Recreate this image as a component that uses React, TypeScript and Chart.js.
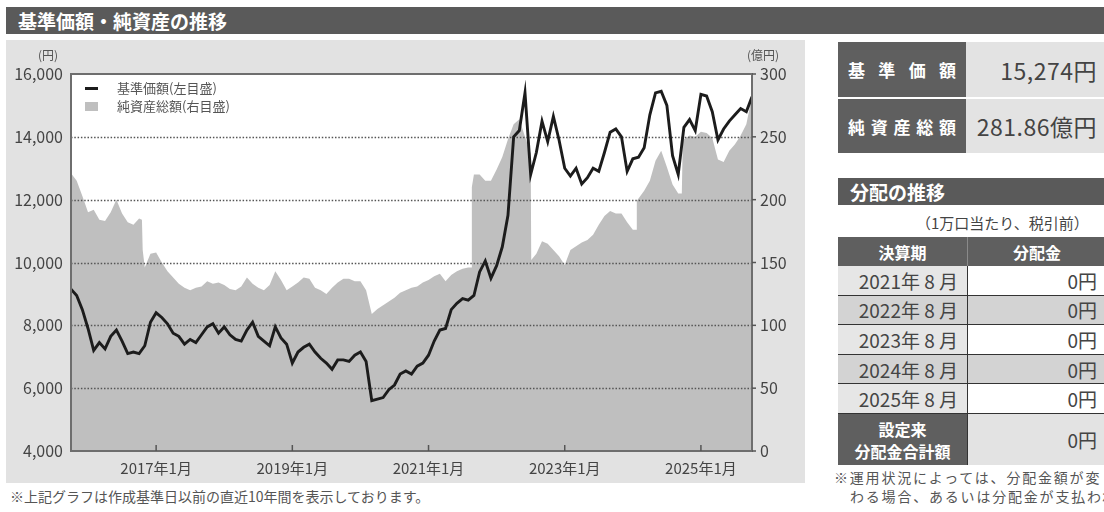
import React, { useEffect, useRef } from "react";
import { Chart, registerables } from "chart.js";

Chart.register(...registerables);

const FONT = "'Noto Sans CJK JP', 'Noto Sans', sans-serif";

// ---- data ----
const navMonths = [
  "2015-10", "2015-11", "2015-12",
  "2016-01", "2016-02", "2016-03", "2016-04", "2016-05", "2016-06", "2016-07", "2016-08", "2016-09", "2016-10", "2016-11", "2016-12",
  "2017-01", "2017-02", "2017-03", "2017-04", "2017-05", "2017-06", "2017-07", "2017-08", "2017-09", "2017-10", "2017-11", "2017-12",
  "2018-01", "2018-02", "2018-03", "2018-04", "2018-05", "2018-06", "2018-07", "2018-08", "2018-09", "2018-10", "2018-11", "2018-12",
  "2019-01", "2019-02", "2019-03", "2019-04", "2019-05", "2019-06", "2019-07", "2019-08", "2019-09", "2019-10", "2019-11", "2019-12",
  "2020-01", "2020-02", "2020-03", "2020-04", "2020-05", "2020-06", "2020-07", "2020-08", "2020-09", "2020-10", "2020-11", "2020-12",
  "2021-01", "2021-02", "2021-03", "2021-04", "2021-05", "2021-06", "2021-07", "2021-08", "2021-09", "2021-10", "2021-11", "2021-12",
  "2022-01", "2022-02", "2022-03", "2022-04", "2022-05", "2022-06", "2022-07", "2022-08", "2022-09", "2022-10", "2022-11", "2022-12",
  "2023-01", "2023-02", "2023-03", "2023-04", "2023-05", "2023-06", "2023-07", "2023-08", "2023-09", "2023-10", "2023-11", "2023-12",
  "2024-01", "2024-02", "2024-03", "2024-04", "2024-05", "2024-06", "2024-07", "2024-08", "2024-09", "2024-10", "2024-11", "2024-12",
  "2025-01", "2025-02", "2025-03", "2025-04", "2025-05", "2025-06", "2025-07", "2025-08", "2025-09", "2025-10",
];

const navValues = [
  9150, 8950, 8500,
  7900, 7200, 7450, 7250, 7650, 7850, 7500, 7100, 7150, 7100, 7350, 8100,
  8400, 8250, 8050, 7750, 7650, 7400, 7550, 7450, 7700, 7950, 8050, 7750,
  7950, 7700, 7550, 7500, 7850, 8100, 7650, 7500, 7350, 7950, 7600, 7400,
  6800, 7150, 7300, 7400, 7150, 6950, 6800, 6600, 6900, 6900, 6850, 7050,
  7150, 6850, 5600, 5650, 5700, 5950, 6100, 6450, 6550, 6450, 6700, 6800,
  7050, 7500, 7850, 7900, 8500, 8700, 8850, 8800, 8950, 9700, 10050, 9500,
  9900, 10500, 11500, 14000, 14200, 15400, 12800, 13500, 14500, 13850, 14650, 13900,
  13000, 12750, 13000, 12500, 12700, 13000, 12900, 13500, 14150, 14250, 14000, 12900,
  13300, 13350, 13650, 14700, 15400, 15450, 15000, 13400, 12800, 14300, 14550, 14200,
  15350, 15300, 14800, 13900, 14250, 14500, 14700, 14900, 14800, 15274,
];

const aumDates = [
  "2015-10", "2015-11", "2015-12",
  "2016-01", "2016-02", "2016-03", "2016-04", "2016-05", "2016-06", "2016-07", "2016-08", "2016-09",
  "2016-10", "2016-10-16", "2016-10-20", "2016-11", "2016-12",
  "2017-01", "2017-02", "2017-03", "2017-04", "2017-05", "2017-06", "2017-07", "2017-08", "2017-09", "2017-10", "2017-11", "2017-12",
  "2018-01", "2018-02", "2018-03", "2018-04", "2018-05", "2018-06", "2018-07", "2018-08", "2018-09", "2018-10", "2018-11", "2018-12",
  "2019-01", "2019-02", "2019-03", "2019-04", "2019-05", "2019-06", "2019-07", "2019-08", "2019-09", "2019-10", "2019-11", "2019-12",
  "2020-01", "2020-02", "2020-03", "2020-04", "2020-05", "2020-06", "2020-07", "2020-08", "2020-09", "2020-10", "2020-11", "2020-12",
  "2021-01", "2021-02", "2021-03", "2021-04", "2021-05", "2021-06", "2021-07", "2021-08", "2021-08-17", "2021-08-20",
  "2021-09", "2021-10", "2021-11", "2021-12",
  "2022-01", "2022-02", "2022-03", "2022-04", "2022-05", "2022-06", "2022-07", "2022-07-04",
  "2022-08", "2022-09", "2022-10", "2022-11", "2022-12",
  "2023-01", "2023-02", "2023-03", "2023-04", "2023-05", "2023-06", "2023-07", "2023-08", "2023-09", "2023-10", "2023-11", "2023-12",
  "2024-01", "2024-01-18", "2024-01-22", "2024-02", "2024-03", "2024-04", "2024-05", "2024-06", "2024-07", "2024-08",
  "2024-09", "2024-09-20", "2024-09-25", "2024-10", "2024-11", "2024-12",
  "2025-01", "2025-02", "2025-03", "2025-04", "2025-05", "2025-06", "2025-07", "2025-08", "2025-09", "2025-10",
];

const aumValues = [
  221, 215, 203,
  190, 192, 184, 183, 190, 200, 189, 182, 180,
  185, 184, 160, 146, 157,
  158, 150, 143, 138, 133, 130, 128, 130, 131, 135, 133, 134,
  132, 129, 128, 131, 138, 133, 130, 128, 132, 143, 136, 128,
  131, 134, 138, 137, 130, 128, 125, 130, 134, 137, 137, 135,
  135, 128, 109, 113, 116, 119, 122, 126, 128, 130, 131, 134,
  136, 139, 141, 135, 140, 143, 145, 146, 146, 210,
  220, 220, 215, 215,
  224, 234, 248, 260, 264, 250, 237, 152,
  157, 167, 165, 160, 155,
  148, 160, 163, 166, 168, 172, 180, 187, 191, 189, 189, 182,
  176, 176, 199, 201, 207, 215, 231, 239, 226, 212,
  205, 205, 246, 248, 251, 250,
  254, 253, 249, 232, 230, 239, 244, 251, 260, 281.86,
];

const xTickMonths = ["2017-01", "2019-01", "2021-01", "2023-01", "2025-01"];
const xTickLabels = ["2017年1月", "2019年1月", "2021年1月", "2023年1月", "2025年1月"];
const xRange = ["2015-10", "2025-10"];
const leftAxis = { min: 4000, max: 16000, step: 2000 };
const rightAxis = { min: 0, max: 300, step: 50 };

const latestNav = "15,274円";
const latestAum = "281.86億円";
const distPeriods = ["2021年 8 月", "2022年 8 月", "2023年 8 月", "2024年 8 月", "2025年 8 月"];
const distAmounts = ["0円", "0円", "0円", "0円", "0円"];
const distTotal = "0円";

function monthIndex(s: string): number {
  const [y, m, d] = s.split("-").map(Number);
  return (y - 2015) * 12 + (m - 10) + (d ? (d - 1) / 30 : 0);
}

const framePlugin = {
  id: "frame",
  beforeDraw(chart: any) {
    const { ctx, chartArea: a } = chart;
    ctx.save();
    ctx.fillStyle = "#ffffff";
    ctx.fillRect(a.left, a.top, a.right - a.left, a.bottom - a.top);
    ctx.restore();
  },
  beforeDatasetDraw(chart: any, args: any) {
    if (args.index !== 0) return;
    const { ctx, chartArea: a } = chart;
    const ys = chart.scales.y;
    ctx.save();
    ctx.strokeStyle = "#555";
    ctx.lineWidth = 1.3;
    ctx.setLineDash([1.5, 1.8]);
    ys.ticks.forEach((t: any) => {
      if (t.value <= ys.min || t.value >= ys.max) return;
      const py = Math.round(ys.getPixelForValue(t.value)) + 0.5;
      ctx.beginPath();
      ctx.moveTo(a.left, py);
      ctx.lineTo(a.right, py);
      ctx.stroke();
    });
    ctx.restore();
  },
  afterDatasetsDraw(chart: any) {
    const { ctx, chartArea: a } = chart;
    ctx.save();
    ctx.strokeStyle = "#6e6e6e";
    ctx.lineWidth = 2;
    ctx.strokeRect(a.left, a.top, a.right - a.left, a.bottom - a.top);
    ctx.strokeStyle = "#555";
    ctx.lineWidth = 1.5;
    chart.scales.x.ticks.forEach((t: any) => {
      const px = chart.scales.x.getPixelForValue(t.value);
      ctx.beginPath();
      ctx.moveTo(px, a.bottom);
      ctx.lineTo(px, a.bottom - 6);
      ctx.stroke();
    });
    const y2 = chart.scales.y2;
    y2.ticks.forEach((t: any) => {
      const py = y2.getPixelForValue(t.value);
      ctx.beginPath();
      ctx.moveTo(a.right, py);
      ctx.lineTo(a.right + 4, py);
      ctx.stroke();
    });
    ctx.restore();
  },
};

function PriceChart() {
  const ref = useRef<HTMLCanvasElement | null>(null);
  useEffect(() => {
    if (!ref.current) return;
    const tickFont = { family: FONT, size: 16 };
    const chart = new Chart(ref.current, {
      type: "line",
      data: {
        datasets: [
          {
            label: "基準価額(左目盛)",
            data: navMonths.map((m, i) => ({ x: monthIndex(m), y: navValues[i] })),
            yAxisID: "y",
            borderColor: "#1c1c1c",
            borderWidth: 2.9,
            pointRadius: 0,
            fill: false,
            tension: 0,
          },
          {
            label: "純資産総額(右目盛)",
            data: aumDates.map((d, i) => ({ x: monthIndex(d), y: aumValues[i] })),
            yAxisID: "y2",
            borderColor: "rgba(0,0,0,0)",
            borderWidth: 0,
            backgroundColor: "#bfbfbf",
            pointRadius: 0,
            fill: "origin",
            tension: 0,
          },
        ],
      },
      options: {
        animation: false,
        responsive: true,
        maintainAspectRatio: false,
        layout: { padding: { top: 34, left: 0, right: 0, bottom: 0 } },
        plugins: { legend: { display: false }, tooltip: { enabled: false } },
        scales: {
          x: {
            type: "linear",
            min: monthIndex(xRange[0]),
            max: monthIndex(xRange[1]),
            grid: { display: false, drawTicks: false },
            border: { display: false },
            afterBuildTicks: (s: any) => {
              s.ticks = xTickMonths.map((m) => ({ value: monthIndex(m) }));
            },
            afterFit: (s: any) => {
              s.height = 32;
            },
            ticks: {
              autoSkip: false,
              maxRotation: 0,
              padding: 8,
              color: "#444",
              font: { family: FONT, size: 15 },
              callback: (v: any) => {
                const i = xTickMonths.findIndex((m) => Math.abs(monthIndex(m) - Number(v)) < 1e-6);
                return i >= 0 ? xTickLabels[i] : "";
              },
            },
          },
          y: {
            position: "left",
            min: leftAxis.min,
            max: leftAxis.max,
            grid: { display: false, drawTicks: false },
            border: { display: false },
            afterFit: (s: any) => {
              s.width = 65;
            },
            ticks: {
              stepSize: leftAxis.step,
              padding: 8,
              color: "#444",
              font: tickFont,
              callback: (v: any) => Number(v).toLocaleString("en-US"),
            },
          },
          y2: {
            position: "right",
            min: rightAxis.min,
            max: rightAxis.max,
            grid: { display: false, drawTicks: false },
            border: { display: false },
            afterFit: (s: any) => {
              s.width = 53;
            },
            ticks: {
              stepSize: rightAxis.step,
              padding: 8,
              color: "#444",
              font: tickFont,
            },
          },
        },
      } as any,
      plugins: [framePlugin],
    });
    return () => chart.destroy();
  }, []);
  return (
    <div style={{ position: "absolute", left: 0, top: 0, width: 799, height: 443 }}>
      <canvas ref={ref} />
    </div>
  );
}

const abs = (o: React.CSSProperties): React.CSSProperties => ({ position: "absolute", boxSizing: "border-box", ...o });

function Justified({ text }: { text: string }) {
  return (
    <div style={{ display: "flex", justifyContent: "space-between", width: "100%", padding: "0 10px", boxSizing: "border-box" }}>
      {text.split("").map((c, i) => (
        <span key={i}>{c}</span>
      ))}
    </div>
  );
}

export default function App() {
  const rowTop = 266;
  const rowH = 29.6;
  return (
    <div
      style={{
        position: "absolute",
        left: 0,
        top: 0,
        width: 1104,
        height: 512,
        overflow: "hidden",
        background: "#fff",
        fontFamily: FONT,
      }}
    >
      {/* title bar */}
      <div
        style={abs({
          left: 6,
          top: 7,
          width: 1098,
          height: 27,
          background: "#5a5a5a",
          color: "#fff",
          fontWeight: 700,
          fontSize: 19,
          lineHeight: "27px",
          paddingLeft: 12,
        })}
      >
        基準価額・純資産の推移
      </div>

      {/* chart panel */}
      <div style={abs({ left: 6, top: 40, width: 799, height: 443, background: "#e2e2e2" })}>
        <PriceChart />
        <div style={abs({ left: 32, top: 8, fontSize: 12, color: "#555", lineHeight: "14px" })}>(円)</div>
        <div style={abs({ left: 741, top: 8, fontSize: 12, color: "#555", lineHeight: "14px" })}>(億円)</div>
        {/* legend */}
        <div style={abs({ left: 79, top: 47, width: 13, height: 2.6, background: "#1c1c1c" })} />
        <div style={abs({ left: 111, top: 39, fontSize: 13, color: "#555", lineHeight: "18px", whiteSpace: "nowrap" })}>
          基準価額(左目盛)
        </div>
        <div style={abs({ left: 79, top: 62, width: 13, height: 9, background: "#bfbfbf" })} />
        <div style={abs({ left: 111, top: 57, fontSize: 13, color: "#555", lineHeight: "18px", whiteSpace: "nowrap" })}>
          純資産総額(右目盛)
        </div>
      </div>

      <div style={abs({ left: 10, top: 486, fontSize: 14, color: "#555", lineHeight: "20px", whiteSpace: "nowrap" })}>
        ※上記グラフは作成基準日以前の直近10年間を表示しております。
      </div>

      {/* right: latest values */}
      <div style={abs({ left: 838, top: 42, width: 128, height: 55, background: "#5f5f5f", color: "#fff", fontWeight: 700, fontSize: 17, display: "flex", alignItems: "center" })}>
        <Justified text="基準価額" />
      </div>
      <div style={abs({ left: 966, top: 42, width: 140, height: 55, background: "#e3e3e3", color: "#444", fontSize: 23, display: "flex", alignItems: "center", justifyContent: "flex-end", paddingRight: 9, letterSpacing: 0.5 })}>
        {latestNav}
      </div>
      <div style={abs({ left: 838, top: 99, width: 128, height: 54, background: "#5f5f5f", color: "#fff", fontWeight: 700, fontSize: 17, display: "flex", alignItems: "center" })}>
        <Justified text="純資産総額" />
      </div>
      <div style={abs({ left: 966, top: 99, width: 140, height: 54, background: "#e3e3e3", color: "#444", fontSize: 23, display: "flex", alignItems: "center", justifyContent: "flex-end", paddingRight: 9, letterSpacing: 0.5 })}>
        {latestAum}
      </div>

      {/* distribution */}
      <div style={abs({ left: 838, top: 178, width: 268, height: 27, background: "#5a5a5a", color: "#fff", fontWeight: 700, fontSize: 19, lineHeight: "27px", paddingLeft: 12 })}>
        分配の推移
      </div>
      <div style={abs({ left: 916, top: 212, fontSize: 15, color: "#444", lineHeight: "22px", whiteSpace: "nowrap" })}>
        （1万口当たり、税引前）
      </div>
      <div style={abs({ left: 838, top: 237, width: 129, height: 29, background: "#5f5f5f", color: "#fff", fontWeight: 700, fontSize: 16, display: "flex", alignItems: "center", justifyContent: "center" })}>
        決算期
      </div>
      <div style={abs({ left: 967, top: 237, width: 139, height: 29, background: "#5f5f5f", color: "#fff", fontWeight: 700, fontSize: 16, display: "flex", alignItems: "center", justifyContent: "center", borderLeft: "1px solid #8a8a8a" })}>
        分配金
      </div>
      {distPeriods.map((p, i) => {
        const even = i % 2 === 1;
        const top = rowTop + i * rowH;
        return (
          <React.Fragment key={p}>
            <div style={abs({ left: 838, top, width: 129, height: rowH, background: even ? "#d3d3d3" : "#e6e6e6", borderBottom: "1.5px solid #333", color: "#444", fontSize: 19, display: "flex", alignItems: "center", justifyContent: "flex-end", paddingRight: 9, whiteSpace: "pre" })}>
              {p}
            </div>
            <div style={abs({ left: 967, top, width: 139, height: rowH, background: even ? "#d3d3d3" : "#ffffff", borderBottom: "1.5px solid #333", borderLeft: "1.5px solid #333", color: "#444", fontSize: 19, display: "flex", alignItems: "center", justifyContent: "flex-end", paddingRight: 9 })}>
              {distAmounts[i]}
            </div>
          </React.Fragment>
        );
      })}
      <div style={abs({ left: 838, top: rowTop + 5 * rowH, width: 129, height: 51, background: "#5f5f5f", color: "#fff", fontWeight: 700, fontSize: 16, lineHeight: "22px", display: "flex", flexDirection: "column", alignItems: "center", justifyContent: "center" })}>
        <div>設定来</div>
        <div>分配金合計額</div>
      </div>
      <div style={abs({ left: 967, top: rowTop + 5 * rowH, width: 139, height: 51, background: "#e3e3e3", borderLeft: "1.5px solid #333", color: "#444", fontSize: 19, display: "flex", alignItems: "center", justifyContent: "flex-end", paddingRight: 9 })}>
        {distTotal}
      </div>
      <div style={abs({ left: 834, top: 468, fontSize: 14, color: "#555", lineHeight: "19px", whiteSpace: "nowrap", letterSpacing: 1.8 })}>
        <div>※運用状況によっては、分配金額が変</div>
        <div style={{ paddingLeft: 16 }}>わる場合、あるいは分配金が支払われない場合があります。</div>
      </div>
    </div>
  );
}
